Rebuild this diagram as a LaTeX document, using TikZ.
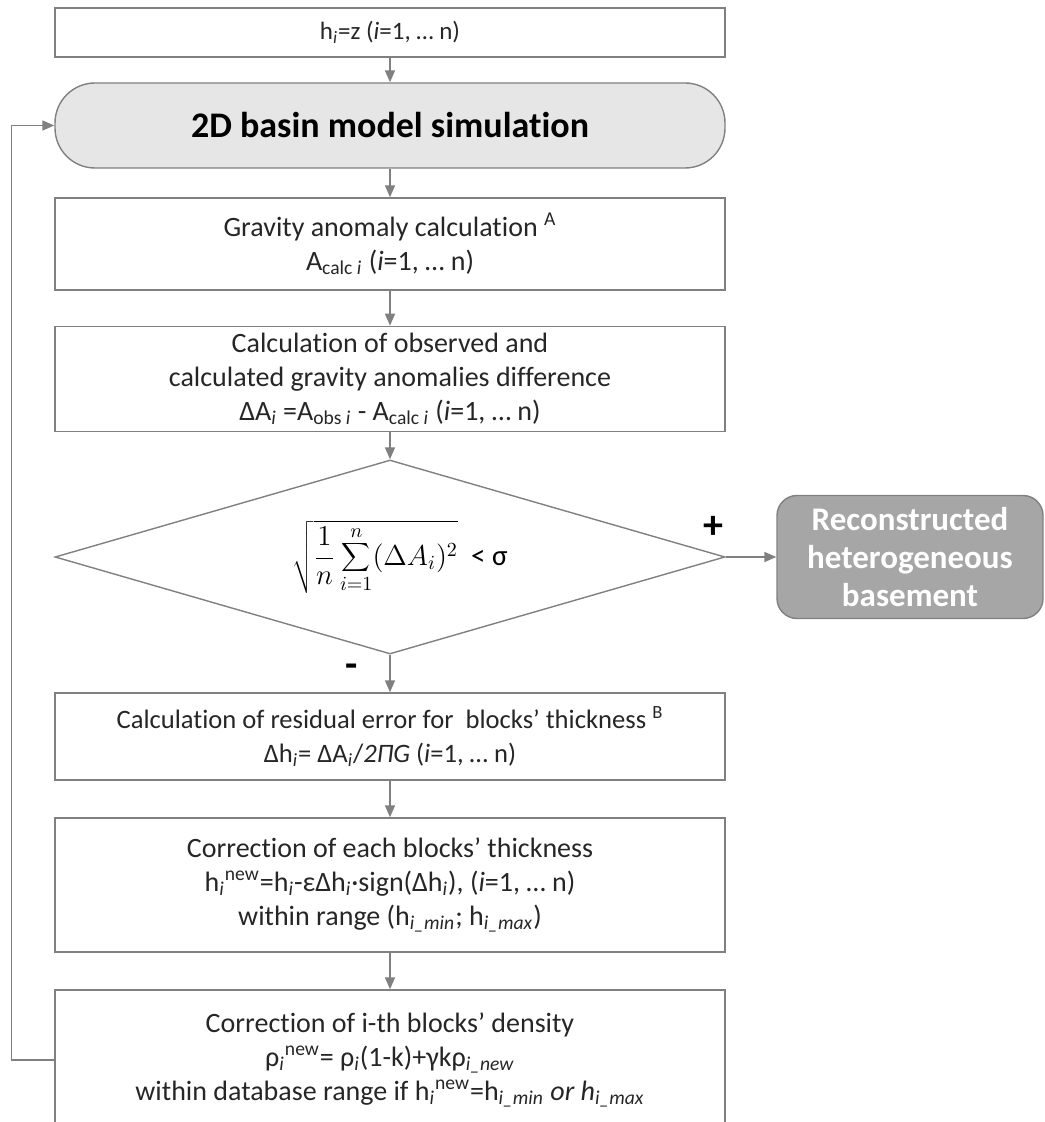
\documentclass[tikz,border=0pt]{standalone}
\usepackage{fontspec}
\setmainfont{Carlito}[Ligatures=NoCommon]
\usetikzlibrary{shapes.geometric,arrows.meta}
\definecolor{linegray}{HTML}{808080}
\definecolor{simfill}{HTML}{E6E6E6}
\definecolor{resfill}{HTML}{A6A6A6}
\newcommand{\itl}{\textit{i}}
\newcommand{\lo}[1]{\textsubscript{#1}}
\newcommand{\up}[1]{\textsuperscript{#1}}

\begin{document}
\begin{tikzpicture}[x=0.5pt,y=-0.5pt,
  box/.style={draw=linegray, line width=0.7pt, minimum width=335pt, align=center, text=black!85, font=\fontsize{14}{17}\selectfont},
  flow/.style={draw=linegray, line width=0.8pt, -{Triangle[length=6pt,width=5pt]}}]
\useasboundingbox (0,0) rectangle (1044,1122);
\clip (0,0) rectangle (1044,1122);
\node[box, minimum height=24.5pt, font=\fontsize{12.5}{15}\selectfont] (init) at (390,32.5) {h\lo{\itl}=z (\itl=1, … n)};
\node[box, fill=simfill, rounded corners=20pt, minimum height=42.5pt, text=black, font=\fontsize{18}{21}\selectfont\bfseries] (sim) at (390,125.5) {2D basin model simulation};
\node[box, minimum height=46pt] (grav) at (390,244) {Gravity anomaly calculation \up{A}\\A\lo{calc \itl} (\itl=1, … n)};
\node[box, minimum height=51pt] (diff) at (390,379) {Calculation of observed and\\calculated gravity anomalies difference\\ΔA\lo{\itl} =A\lo{obs \itl} - A\lo{calc \itl} (\itl=1, … n)};
\node[diamond, aspect=3.45, draw=linegray, line width=0.7pt, minimum width=335pt, minimum height=97pt, inner sep=0pt, font=\fontsize{14.5}{18}\selectfont] (test) at (390,557) {\hspace{10pt}$\displaystyle\sqrt{\frac{1}{n}\sum_{i=1}^{n}(\Delta A_i)^2}$\ \ < σ};
\node[draw=linegray, line width=0.7pt, fill=resfill, rounded corners=10pt, minimum width=133pt, minimum height=61.5pt, align=center, text=white, font=\fontsize{16.5}{19}\selectfont\bfseries] (result) at (910,557) {Reconstructed\\heterogeneous\\basement};
\node[font=\fontsize{20}{20}\selectfont\bfseries] (plus) at (713,527) {+};
\node[font=\fontsize{20}{20}\selectfont\bfseries] (minus) at (352,671) {-};
\node[box, minimum height=43.5pt, font=\fontsize{13.3}{17}\selectfont] (resid) at (390,736.5) {Calculation of residual error for\ \ blocks’ thickness \up{B}\\Δh\lo{\itl}= ΔA\lo{\itl}/\textit{2ΠG} (\itl=1, … n)};
\node[box, minimum height=67pt] (corr) at (390,885) {Correction of each blocks’ thickness\\h\lo{\itl}\up{new}=h\lo{\itl}-εΔh\lo{\itl}·sign(Δh\lo{\itl}), (\itl=1, … n)\\within range (h\lo{\textit{i\_min}}; h\lo{\textit{i\_max}})};
\node[box, minimum height=70pt] (dens) at (390,1060) {Correction of i-th blocks’ density\\ρ\lo{\itl}\up{new}= ρ\lo{\itl}(1-k)+γkρ\lo{\textit{i\_new}}\\within database range if h\lo{\itl}\up{new}=h\lo{\textit{i\_min}} \textit{or h}\lo{\textit{i\_max}}};
\draw[flow] (init) -- (sim);
\draw[flow] (sim) -- (grav);
\draw[flow] (grav) -- (diff);
\draw[flow] (diff) -- (test);
\draw[flow] (test.east) -- (result.west);
\draw[flow] (test.south) -- (resid);
\draw[flow] (resid) -- (corr);
\draw[flow] (corr) -- (dens);
\draw[flow] (dens.west) -- ++(-43,0) |- (sim.west);
\end{tikzpicture}
\end{document}
